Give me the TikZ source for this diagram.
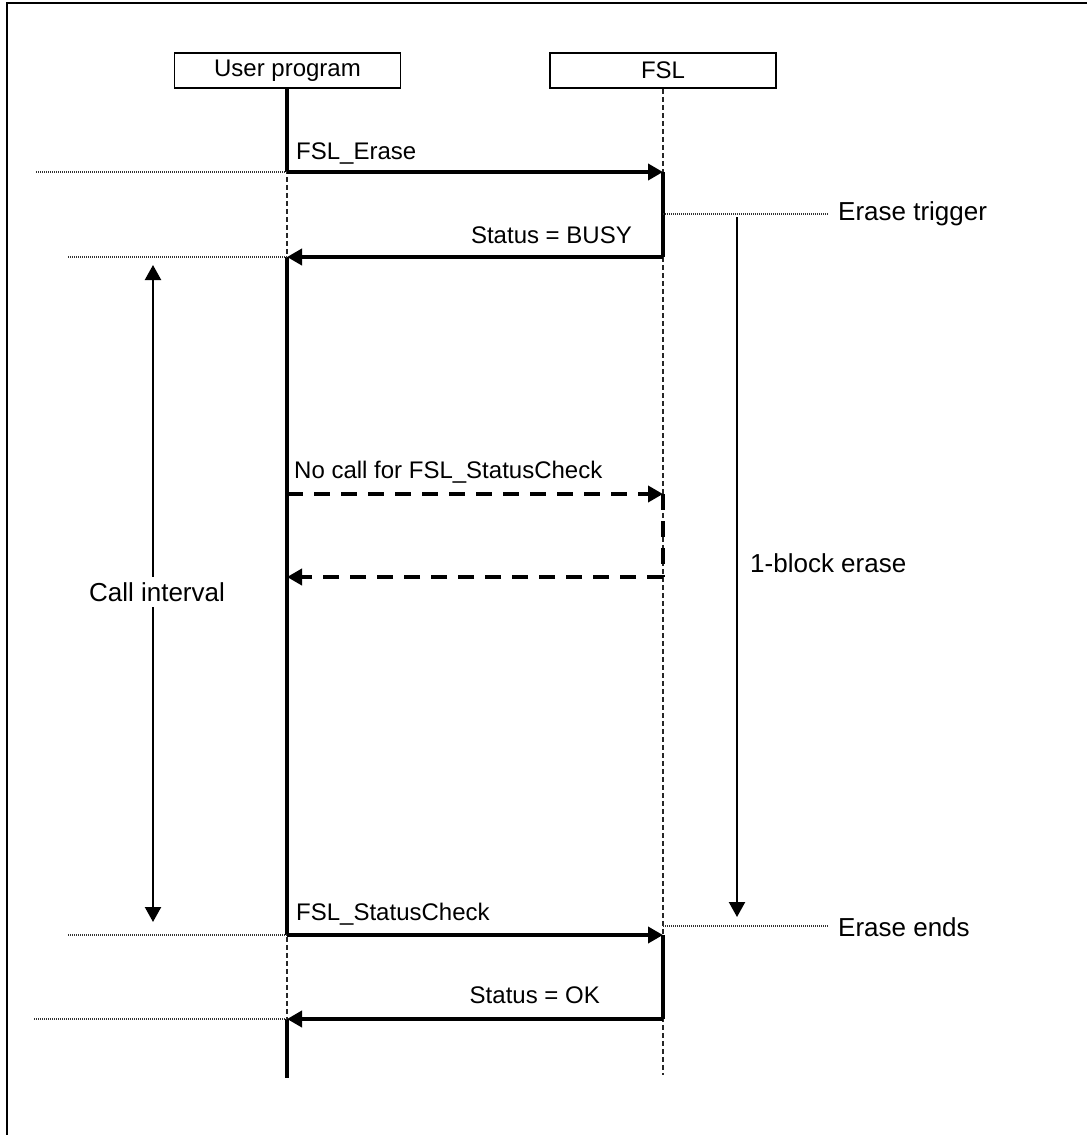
\documentclass[tikz,border=0pt]{standalone}
\usepackage{fontspec}
\setmainfont{Liberation Sans}
\usetikzlibrary{arrows.meta}
\begin{document}
\begin{tikzpicture}[x=1pt,y=-1pt,
  lbl/.style={font=\fontsize{24}{28}\selectfont, inner sep=0pt},
  biglbl/.style={font=\fontsize{26}{30}\selectfont, inner sep=0pt},
  obj/.style={draw, line width=1.5pt, minimum width=226pt, minimum height=35pt, inner sep=0pt, font=\fontsize{24}{28}\selectfont},
  life/.style={line width=1.2pt, dash pattern=on 5pt off 3pt, black!85},
  act/.style={line width=4.5pt},
  msg/.style={line width=4.5pt, -{Triangle[length=15pt,width=16pt]}},
  dmsg/.style={msg, dash pattern=on 16pt off 11pt},
  guide/.style={line width=1.2pt, black!80, dash pattern=on 1pt off 1pt},
  span/.style={line width=2.2pt, -{Triangle[length=15pt,width=16pt]}},
  dspan/.style={line width=2.2pt, {Triangle[length=15pt,width=16pt]}-{Triangle[length=15pt,width=16pt]}},
]
\useasboundingbox (0,0) rectangle (1087,1135);

% frame
\coordinate (fa) at (7,1135);
\coordinate (fb) at (7,3);
\coordinate (fc) at (1087,3);
\draw[line width=1.5pt] (fa) -- (fb) -- (fc);

% objects
\node[obj] (user) at (287.5,70.5) {User program};
\node[obj] (fsl) at (663,70.5) {FSL};

% event coordinates
\coordinate (u1) at (287,172);
\coordinate (f1) at (663,172);
\coordinate (f2) at (663,257);
\coordinate (u2) at (287,257);
\coordinate (u3) at (287,494);
\coordinate (f3) at (663,494);
\coordinate (f4) at (663,577);
\coordinate (u4) at (287,577);
\coordinate (u5) at (287,935);
\coordinate (f5) at (663,935);
\coordinate (f6) at (663,1019);
\coordinate (u6) at (287,1019);
\coordinate (uend) at (287,1078);
\coordinate (fend) at (663,1075);

% lifelines
\draw[life] (user.south -| u1) -- (uend);
\draw[life] (fsl.south) -- (fend);

% activations
\draw[act] (user.south -| u1) -- (u1);
\draw[act] (u2) -- (u5);
\draw[act] (u6) -- (uend);
\draw[act] (f1) -- (f2);
\draw[act] (f5) -- (f6);
\draw[act, dash pattern=on 16pt off 11pt] (f3) -- (f4);

% messages
\draw[msg] (u1) -- (f1);
\draw[msg] (f2) -- (u2);
\draw[dmsg] (u3) -- (f3);
\draw[dmsg] (f4) -- (u4);
\draw[msg] (u5) -- (f5);
\draw[msg] (f6) -- (u6);

% message labels
\node[lbl, anchor=base west] (l1) at (296,159) {FSL\_Erase};
\node[lbl, anchor=base east] (l2) at (632,243) {Status = BUSY};
\node[lbl, anchor=base west] (l3) at (294,478) {No call for FSL\_StatusCheck};
\node[lbl, anchor=base west] (l4) at (296,920) {FSL\_StatusCheck};
\node[lbl, anchor=base east] (l5) at (600,1003) {Status = OK};

% left guides
\coordinate (g1) at (36,172);
\coordinate (g2) at (68,257);
\coordinate (g3) at (68,935);
\coordinate (g4) at (34,1019);
\draw[guide] (g1) -- (u1);
\draw[guide] (g2) -- (u2);
\draw[guide] (g3) -- (u5);
\draw[guide] (g4) -- (u6);

% right guides
\coordinate (t1) at (663,214);
\coordinate (t2) at (828,214);
\coordinate (t3) at (663,926);
\coordinate (t4) at (828,926);
\draw[guide] (t1) -- (t2);
\draw[guide] (t3) -- (t4);
\node[biglbl, anchor=west] (trig) at (838,214) {Erase trigger};
\node[biglbl, anchor=west] (ends) at (838,927) {Erase ends};

% 1-block erase
\coordinate (e1) at (737,217);
\coordinate (e2) at (737,917);
\draw[span] (e1) -- (e2);
\node[biglbl, anchor=west] (blk) at (750,563) {1-block erase};

% call interval
\coordinate (c1) at (153,265);
\coordinate (c2) at (153,922);
\draw[dspan] (c1) -- (c2);
\node[biglbl, fill=white, inner xsep=2pt, inner ysep=5pt] (ci) at (157,592) {Call interval};
\end{tikzpicture}
\end{document}
